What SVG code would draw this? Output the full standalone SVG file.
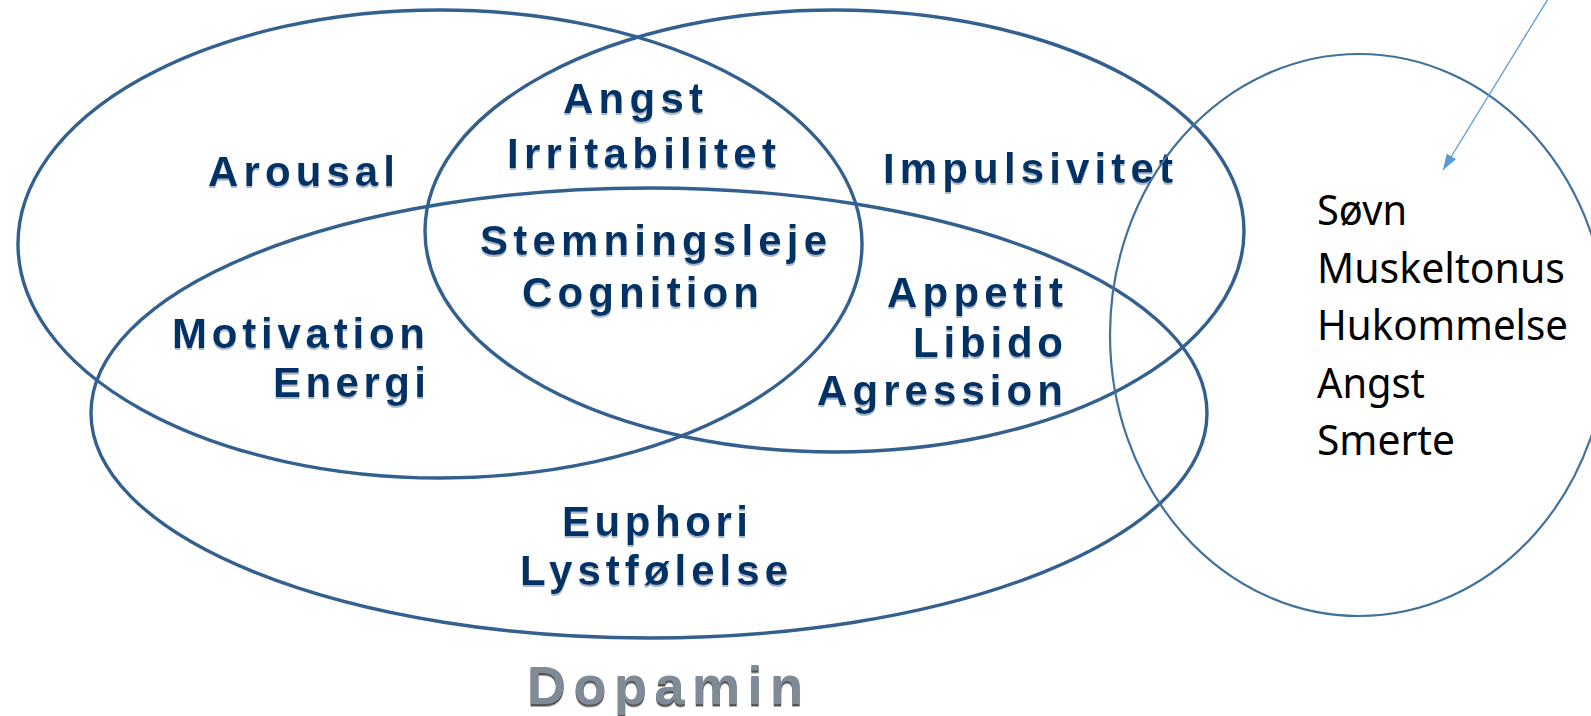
<svg xmlns="http://www.w3.org/2000/svg" width="1591" height="716" viewBox="0 0 1591 716">
  <style>
    .venn { fill: none; stroke: #34608F; stroke-width: 3.4; }
    .lbl { font-family: "Liberation Sans", Arial, sans-serif; font-weight: bold; font-size: 42px; fill: #003366; filter: url(#sh); }
    .dop { font-family: "Liberation Sans", Arial, sans-serif; font-weight: bold; font-size: 54px; fill: #808B98; filter: url(#shd); }
    .side { fill: none; stroke: #41719C; stroke-width: 2.2; }
    .sidetxt { font-family: "Noto Sans", "Open Sans", sans-serif; font-size: 41px; fill: #000000; }
    .arrow { stroke: #5B9BD5; stroke-width: 1.3; fill: none; }
  </style>
  <defs>
    <filter id="sh" x="-5%" y="-10%" width="110%" height="130%">
      <feDropShadow dx="0" dy="2" stdDeviation="0.4" flood-color="#A9B9CC" flood-opacity="1"/>
    </filter>
    <filter id="shd" x="-5%" y="-10%" width="110%" height="130%">
      <feDropShadow dx="0" dy="2.5" stdDeviation="0.3" flood-color="#555555" flood-opacity="1"/>
    </filter>
    <marker id="ah" markerUnits="userSpaceOnUse" viewBox="0 0 16 11" markerWidth="16" markerHeight="11" refX="16" refY="5.5" orient="auto">
      <path d="M0,0 L16,5.5 L0,11 z" fill="#5B9BD5"/>
    </marker>
  </defs>
  <rect width="1591" height="716" fill="#FFFFFF"/>

  <g id="ellipse-left">
    <ellipse class="venn" cx="440" cy="244" rx="422" ry="234"/>
  </g>
  <g id="ellipse-right">
    <ellipse class="venn" cx="834.5" cy="231" rx="409.5" ry="221"/>
  </g>
  <g id="ellipse-bottom">
    <ellipse class="venn" cx="649" cy="413" rx="558" ry="225"/>
  </g>

  <g id="label-arousal"><text class="lbl" x="208" y="186" textLength="187" lengthAdjust="spacing">Arousal</text></g>
  <g id="label-angst">
    <text class="lbl" x="563" y="113" textLength="140" lengthAdjust="spacing">Angst</text>
    <text class="lbl" x="507" y="168" textLength="269" lengthAdjust="spacing">Irritabilitet</text>
  </g>
  <g id="label-stemning">
    <text class="lbl" x="480" y="255" textLength="347" lengthAdjust="spacing">Stemningsleje</text>
    <text class="lbl" x="522" y="307" textLength="237" lengthAdjust="spacing">Cognition</text>
  </g>
  <g id="label-motivation">
    <text class="lbl" x="172" y="348" textLength="253" lengthAdjust="spacing">Motivation</text>
    <text class="lbl" x="273" y="397" textLength="153" lengthAdjust="spacing">Energi</text>
  </g>
  <g id="label-impulsivitet"><text class="lbl" x="883" y="183" textLength="290" lengthAdjust="spacing">Impulsivitet</text></g>
  <g id="label-appetit">
    <text class="lbl" x="887" y="307" textLength="176" lengthAdjust="spacing">Appetit</text>
    <text class="lbl" x="913" y="357" textLength="150" lengthAdjust="spacing">Libido</text>
    <text class="lbl" x="817" y="405" textLength="246" lengthAdjust="spacing">Agression</text>
  </g>
  <g id="label-euphori">
    <text class="lbl" x="562" y="536" textLength="186" lengthAdjust="spacing">Euphori</text>
    <text class="lbl" x="520" y="585" textLength="268" lengthAdjust="spacing">Lystfølelse</text>
  </g>
  <g id="label-dopamin">
    <text class="dop" x="527" y="704" textLength="276" lengthAdjust="spacing">Dopamin</text>
  </g>

  <g id="side-circle">
    <ellipse class="side" cx="1359" cy="335" rx="249" ry="281"/>
    <text class="sidetxt" x="1317" y="225" textLength="90" lengthAdjust="spacingAndGlyphs">Søvn</text>
    <text class="sidetxt" x="1317" y="283" textLength="248" lengthAdjust="spacingAndGlyphs">Muskeltonus</text>
    <text class="sidetxt" x="1317" y="340" textLength="251" lengthAdjust="spacingAndGlyphs">Hukommelse</text>
    <text class="sidetxt" x="1317" y="398" textLength="108" lengthAdjust="spacingAndGlyphs">Angst</text>
    <text class="sidetxt" x="1317" y="455" textLength="138" lengthAdjust="spacingAndGlyphs">Smerte</text>
  </g>

  <g id="connectors">
    <line class="arrow" x1="1548" y1="-1" x2="1443" y2="170" marker-end="url(#ah)"/>
  </g>
</svg>
